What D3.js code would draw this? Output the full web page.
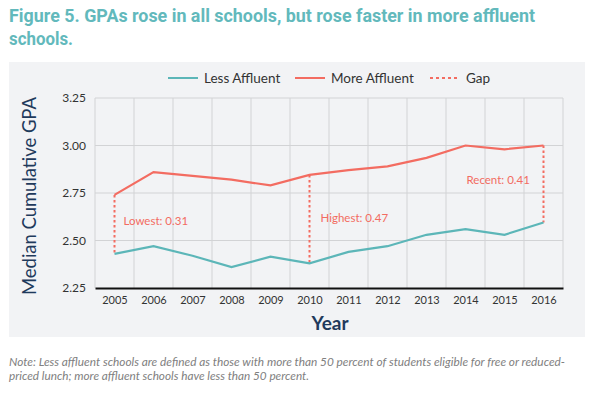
<!DOCTYPE html>
<html>
<head>
<meta charset="utf-8">
<script src="https://cdn.jsdelivr.net/npm/d3@7"></script>
<style>
  body { margin: 0; background: #fff; }
  svg { display: block; font-family: Lato, "Open Sans", sans-serif; }
</style>
</head>
<body>
<div id="chart"></div>
<script>
const years = ['2005', '2006', '2007', '2008', '2009', '2010', '2011', '2012', '2013', '2014', '2015', '2016'];
const lessAffluent = [2.43, 2.47, 2.42, 2.36, 2.415, 2.38, 2.44, 2.47, 2.53, 2.56, 2.53, 2.595];
const moreAffluent = [2.74, 2.86, 2.84, 2.82, 2.79, 2.845, 2.87, 2.89, 2.935, 3.00, 2.98, 3.00];
const yTicks = [2.25, 2.50, 2.75, 3.00, 3.25];
const gaps = [
    { year: '2005', label: 'Lowest: 0.31', dx: 9, at: 2.58 },
    { year: '2010', label: 'Highest: 0.47', dx: 11, at: 2.60 },
    { year: '2016', label: 'Recent: 0.41', dx: -77, at: 2.80 }
];

const teal = '#5cb6b8';
const red = '#f36c61';
const navy = '#1f3a5c';

const width = 592, height = 393;
const svg = d3.select('#chart').append('svg')
    .attr('width', width)
    .attr('height', height);

// title
const title = svg.append('g').attr('fill', '#62b9bc').attr('font-weight', 'bold')
    .attr('font-family', 'Roboto, sans-serif').attr('font-size', 19);
title.append('text').attr('x', 9).attr('y', 22)
    .attr('textLength', 526).attr('lengthAdjust', 'spacingAndGlyphs')
    .text('Figure 5. GPAs rose in all schools, but rose faster in more affluent');
title.append('text').attr('x', 9).attr('y', 45)
    .attr('textLength', 64).attr('lengthAdjust', 'spacingAndGlyphs')
    .text('schools.');

// panel
svg.append('rect')
    .attr('x', 9).attr('y', 62)
    .attr('width', 576).attr('height', 275)
    .attr('fill', '#f2f3f5');

const x = d3.scalePoint().domain(years).range([95, 563]).padding(0.5);
const y = d3.scaleLinear().domain([2.25, 3.25]).range([288, 98]);
const step = x.step();

const grid = svg.append('g').attr('stroke', '#d2d3d5').attr('stroke-width', 1);
grid.selectAll('.vg')
    .data(d3.range(years.length + 1))
    .enter().append('line')
    .attr('x1', i => 95 + i * step).attr('x2', i => 95 + i * step)
    .attr('y1', y(3.25)).attr('y2', y(2.25));
grid.selectAll('.hg')
    .data(yTicks.slice(1))
    .enter().append('line')
    .attr('x1', 95).attr('x2', 563)
    .attr('y1', d => y(d)).attr('y2', d => y(d));

// axes
const yAxis = svg.append('g')
    .attr('transform', 'translate(95,0)')
    .call(d3.axisLeft(y).tickValues(yTicks).tickFormat(d3.format('.2f')).tickSize(0).tickPadding(9));
yAxis.select('.domain').remove();
yAxis.selectAll('text').attr('font-size', 12).attr('fill', '#333')
    .attr('font-family', 'Lato, sans-serif');

const xAxis = svg.append('g')
    .attr('transform', 'translate(0,288)')
    .call(d3.axisBottom(x).tickSize(0).tickPadding(8));
xAxis.select('.domain').attr('stroke', '#111').attr('stroke-width', 2);
xAxis.selectAll('text').attr('font-size', 11).attr('fill', '#333')
    .attr('font-family', 'Lato, sans-serif');

// gap lines
svg.selectAll('.gap')
    .data(gaps)
    .enter().append('line')
    .attr('x1', d => x(d.year)).attr('x2', d => x(d.year))
    .attr('y1', d => y(moreAffluent[years.indexOf(d.year)]))
    .attr('y2', d => y(lessAffluent[years.indexOf(d.year)]))
    .attr('stroke', red).attr('stroke-width', 2)
    .attr('stroke-dasharray', '2.5,2.5');

svg.selectAll('.gapLabel')
    .data(gaps)
    .enter().append('text')
    .attr('x', d => x(d.year) + d.dx)
    .attr('y', d => y(d.at))
    .attr('fill', red).attr('font-size', 11.5)
    .text(d => d.label);

// lines
const line = d3.line().x((d, i) => x(years[i])).y(d => y(d));
svg.append('path').datum(lessAffluent)
    .attr('d', line).attr('fill', 'none')
    .attr('stroke', teal).attr('stroke-width', 2.2);
svg.append('path').datum(moreAffluent)
    .attr('d', line).attr('fill', 'none')
    .attr('stroke', red).attr('stroke-width', 2.2);

// legend
const legendItems = [
    { label: 'Less Affluent', color: teal, dash: null, x: 168 },
    { label: 'More Affluent', color: red, dash: null, x: 295 },
    { label: 'Gap', color: red, dash: '3,3', x: 430 }
];
const legend = svg.selectAll('.legend')
    .data(legendItems)
    .enter().append('g')
    .attr('transform', d => `translate(${d.x},78)`);
legend.append('line')
    .attr('x1', 0).attr('x2', 30)
    .attr('stroke', d => d.color).attr('stroke-width', 2)
    .attr('stroke-dasharray', d => d.dash);
legend.append('text')
    .attr('x', 36).attr('y', 5)
    .attr('font-size', 13.5).attr('fill', '#333')
    .text(d => d.label);

// axis titles
svg.append('text')
    .attr('transform', `translate(36,${(97 + 295) / 2}) rotate(-90)`)
    .attr('text-anchor', 'middle')
    .attr('font-size', 19).attr('fill', navy)
    .attr('textLength', 198).attr('lengthAdjust', 'spacingAndGlyphs')
    .text('Median Cumulative GPA');
svg.append('text')
    .attr('x', 330).attr('y', 330)
    .attr('text-anchor', 'middle')
    .attr('font-size', 19).attr('font-weight', 'bold').attr('fill', navy)
    .text('Year');

// note
const note = svg.append('g').attr('font-style', 'italic').attr('font-size', 11.5).attr('fill', '#808080');
note.append('text').attr('x', 9).attr('y', 366)
    .attr('textLength', 556).attr('lengthAdjust', 'spacingAndGlyphs')
    .text('Note: Less affluent schools are defined as those with more than 50 percent of students eligible for free or reduced-');
note.append('text').attr('x', 9).attr('y', 380)
    .attr('textLength', 300).attr('lengthAdjust', 'spacingAndGlyphs')
    .text('priced lunch; more affluent schools have less than 50 percent.');
</script>
</body>
</html>
